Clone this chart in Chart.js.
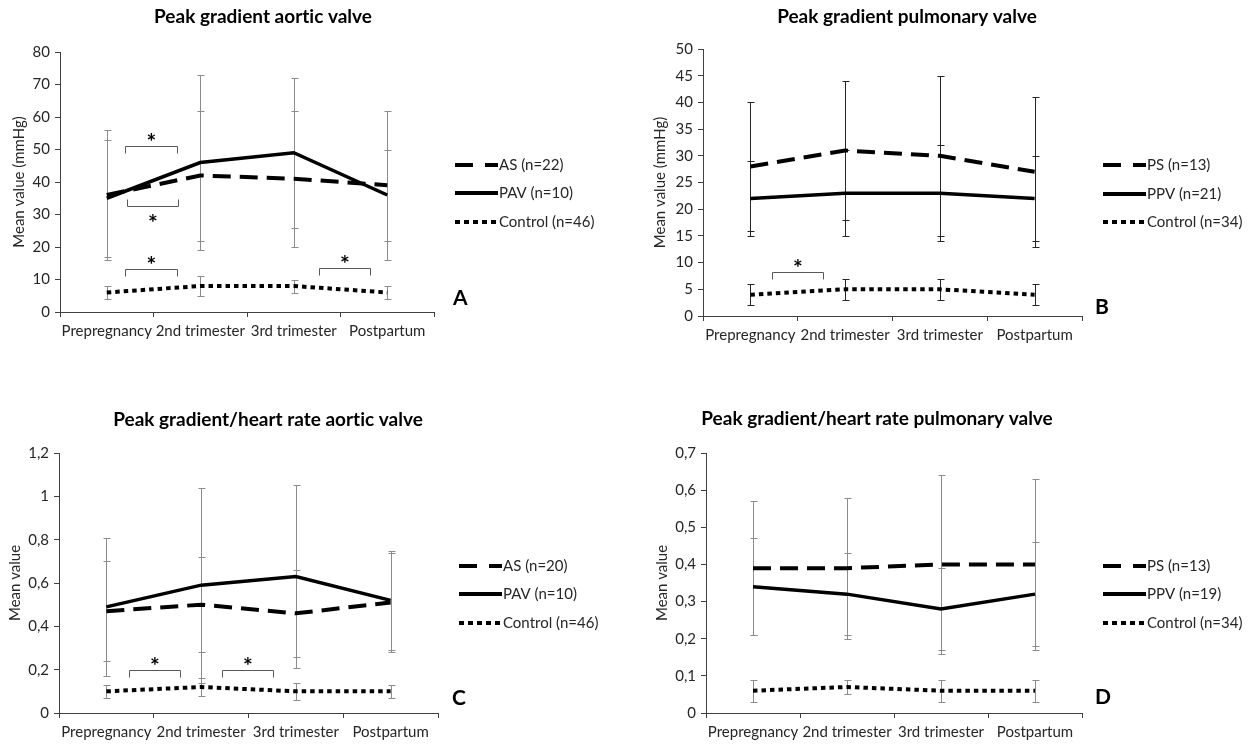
<!DOCTYPE html>
<html>
<head>
<meta charset="utf-8">
<script src="https://cdn.jsdelivr.net/npm/chart.js@4/dist/chart.umd.min.js"></script>
<style>
body{margin:0;background:#fff;}
#wrap{position:relative;width:1252px;height:744px;overflow:hidden;}
.panel{position:absolute;width:626px;height:372px;}
</style>
</head>
<body>
<div id="wrap">
  <div class="panel" style="left:0;top:0"><canvas id="chartA" width="626" height="372"></canvas></div>
  <div class="panel" style="left:626px;top:0"><canvas id="chartB" width="626" height="372"></canvas></div>
  <div class="panel" style="left:0;top:372px"><canvas id="chartC" width="626" height="372"></canvas></div>
  <div class="panel" style="left:626px;top:372px"><canvas id="chartD" width="626" height="372"></canvas></div>
</div>
<script>
// Zwangerschap: peak gradient over de 4 meetmomenten (gemiddelde +/- SD)
const categories = ['Prepregnancy', '2nd trimester', '3rd trimester', 'Postpartum'];

// A - peak gradient aortaklep (mmHg)
const asGrad      = [36, 42, 41, 39];
const asGradSd    = [20, 20, 21, 23];
const pavGrad     = [35, 46, 49, 36];
const pavGradSd   = [18, 27, 23, 14];
const ctrlAGrad   = [6, 8, 8, 6];
const ctrlAGradSd = [2, 3, 2, 2];

// B - peak gradient pulmonalisklep (mmHg)
const psGrad      = [28, 31, 30, 27];
const psGradSd    = [12, 13, 15, 14];
const ppvGrad     = [22, 23, 23, 22];
const ppvGradSd   = [7, 8, 9, 8];
const ctrlBGrad   = [4, 5, 5, 4];
const ctrlBGradSd = [2, 2, 2, 2];

// C - peak gradient / hartfrequentie aortaklep
const asHr      = [0.47, 0.50, 0.46, 0.51];
const asHrSd    = [0.23, 0.22, 0.20, 0.23];
const pavHr     = [0.49, 0.59, 0.63, 0.52];
const pavHrSd   = [0.32, 0.45, 0.42, 0.23];
const ctrlCHr   = [0.10, 0.12, 0.10, 0.10];
const ctrlCHrSd = [0.03, 0.04, 0.04, 0.03];

// D - peak gradient / hartfrequentie pulmonalisklep
const psHr      = [0.39, 0.39, 0.40, 0.40];
const psHrSd    = [0.18, 0.19, 0.24, 0.23];
const ppvHr     = [0.34, 0.32, 0.28, 0.32];
const ppvHrSd   = [0.13, 0.11, 0.11, 0.14];
const ctrlDHr   = [0.06, 0.07, 0.06, 0.06];
const ctrlDHrSd = [0.03, 0.02, 0.03, 0.03];

// significantie-haken (x in categorie-eenheden, y in waarde)
const sigA = [
  {from: 0.2,  to: 0.75, at: 51,   tips: 'down'},
  {from: 0.22, to: 0.76, at: 32.6, tips: 'up'},
  {from: 0.2,  to: 0.75, at: 13.2, tips: 'down'},
  {from: 2.27, to: 2.82, at: 13.4, tips: 'down'}
];
const sigB = [{from: 0.23, to: 0.77, at: 8.2, tips: 'down'}];
const sigC = [
  {from: 0.24, to: 0.78, at: 0.20, tips: 'down'},
  {from: 1.22, to: 1.76, at: 0.20, tips: 'down'}
];
const sigD = [];

const FONT = 'Lato, "Open Sans", sans-serif';
const AXIS = '#404040';
const TXT = '#262626';
const DASH = [18, 9];
const DOTS = [4.5, 4];

function commaFmt(v){ return String(+v.toFixed(2)).replace('.', ','); }

function px(v){ return Math.round(v) + 0.5; }

const decor = {
  id: 'decor',
  beforeDatasetsDraw(chart, args, o){
    const {ctx, scales:{x, y}} = chart;
    ctx.save();
    ctx.strokeStyle = o.errorColor; ctx.lineWidth = 1;
    chart.data.datasets.forEach(ds=>{
      ds.data.forEach((v,i)=>{
        const xx = px(x.getPixelForValue(i));
        const hi = px(y.getPixelForValue(v + ds.errors[i]));
        const lo = px(y.getPixelForValue(v - ds.errors[i]));
        ctx.beginPath();
        ctx.moveTo(xx, hi); ctx.lineTo(xx, lo);
        ctx.moveTo(xx-3, hi); ctx.lineTo(xx+4, hi);
        ctx.moveTo(xx-3, lo); ctx.lineTo(xx+4, lo);
        ctx.stroke();
      });
    });
    ctx.restore();
  },
  afterDraw(chart, args, o){
    const {ctx, chartArea:ca, scales:{x, y}} = chart;
    ctx.save();
    ctx.textRendering = 'optimizeSpeed';
    // titel
    ctx.fillStyle = '#000';
    ctx.font = 'bold 19px ' + FONT;
    ctx.textAlign = 'center'; ctx.textBaseline = 'middle';
    ctx.fillText(o.title, o.titleX, o.titleY);
    // y-as titel
    ctx.save();
    ctx.translate(o.yTitleX, (ca.top + ca.bottom)/2);
    ctx.rotate(-Math.PI/2);
    ctx.font = '15px ' + FONT; ctx.fillStyle = TXT;
    ctx.fillText(o.yTitle, 0, 0);
    ctx.restore();
    // significantie
    ctx.strokeStyle = '#595959'; ctx.lineWidth = 1;
    ctx.fillStyle = '#000'; ctx.font = 'bold 23px ' + FONT;
    o.sig.forEach(s=>{
      const x0 = px(x.getPixelForValue(s.from)), x1 = px(x.getPixelForValue(s.to));
      const yy = px(y.getPixelForValue(s.at));
      const d = s.tips === 'down' ? 7 : -7;
      ctx.beginPath();
      ctx.moveTo(x0, yy + d); ctx.lineTo(x0, yy); ctx.lineTo(x1, yy); ctx.lineTo(x1, yy + d);
      ctx.stroke();
      ctx.fillText('*', (x0 + x1)/2, s.tips === 'down' ? yy - 4 : yy + 17);
    });
    // legenda
    const lx = ca.right + o.legendDx;
    const mid = (ca.top + ca.bottom)/2 + o.legendDy;
    chart.data.datasets.forEach((ds,i)=>{
      const ly = Math.round(mid + (i-1)*28.5);
      ctx.save();
      ctx.strokeStyle = '#000'; ctx.lineWidth = 4;
      ctx.setLineDash(ds.legendDash || []);
      ctx.beginPath(); ctx.moveTo(lx, ly); ctx.lineTo(lx + 43, ly); ctx.stroke();
      ctx.restore();
      ctx.fillStyle = TXT; ctx.font = '15px ' + FONT;
      ctx.textAlign = 'left'; ctx.textBaseline = 'middle';
      ctx.fillText(ds.label, lx + 44, ly);
    });
    // paneelletter
    ctx.fillStyle = '#000'; ctx.font = 'bold 21px ' + FONT;
    ctx.textAlign = 'left'; ctx.textBaseline = 'middle';
    ctx.fillText(o.letter, o.letterX, o.letterY);
    ctx.restore();
  }
};

function makePanel(id, p){
  const sets = p.series.map((s,i)=>({
    label: s.name, data: s.values, errors: s.sd,
    borderColor: '#000', borderWidth: i === 1 ? 3.5 : 4,
    borderDash: [DASH, [], DOTS][i],
    legendDash: [[18, 12], [], [5, 4]][i],
    pointRadius: 0, tension: 0, fill: false
  }));
  return new Chart(document.getElementById(id), {
    type: 'line',
    data: { labels: categories, datasets: sets },
    options: {
      responsive: false, animation: false,
      layout: { padding: { left: 0, top: p.area.top, right: 626 - p.area.right, bottom: 0 } },
      plugins: {
        legend: { display: false }, tooltip: { enabled: false },
        decor: {
          title: p.title, titleX: p.titleX, titleY: p.titleY,
          yTitle: p.yTitle, yTitleX: p.yTitleX,
          sig: p.sig, errorColor: p.errorColor,
          legendDx: 21, legendDy: 11,
          letter: p.letter, letterX: p.letterX, letterY: p.letterY
        }
      },
      scales: {
        x: {
          offset: true,
          grid: { offset: true, drawOnChartArea: false, tickLength: 5, color: AXIS },
          border: { color: AXIS },
          ticks: { font: { family: FONT, size: 15 }, color: TXT, padding: 5, maxRotation: 0, autoSkip: false },
          afterFit: s => { s.height = 372 - p.area.bottom; }
        },
        y: {
          min: 0, max: p.max,
          grid: { drawOnChartArea: false, tickLength: 5, color: AXIS },
          border: { color: AXIS },
          ticks: { stepSize: p.step, font: { family: FONT, size: 15 }, color: TXT, padding: 5, callback: v => commaFmt(v) },
          afterFit: s => { s.width = p.area.left; }
        }
      }
    },
    plugins: [decor]
  });
}

makePanel('chartA', {
  title: 'Peak gradient aortic valve', titleX: 263, titleY: 17,
  yTitle: 'Mean value (mmHg)', yTitleX: 19,
  area: {left: 60, right: 434, top: 52, bottom: 312}, max: 80, step: 10,
  errorColor: '#8c8c8c', sig: sigA, letter: 'A', letterX: 453, letterY: 298,
  series: [
    {name: 'AS (n=22)', values: asGrad, sd: asGradSd},
    {name: 'PAV (n=10)', values: pavGrad, sd: pavGradSd},
    {name: 'Control (n=46)', values: ctrlAGrad, sd: ctrlAGradSd}
  ]
});

makePanel('chartB', {
  title: 'Peak gradient pulmonary valve', titleX: 281, titleY: 17,
  yTitle: 'Mean value (mmHg)', yTitleX: 34,
  area: {left: 77, right: 456, top: 49, bottom: 316}, max: 50, step: 5,
  errorColor: '#262626', sig: sigB, letter: 'B', letterX: 469, letterY: 307,
  series: [
    {name: 'PS (n=13)', values: psGrad, sd: psGradSd},
    {name: 'PPV (n=21)', values: ppvGrad, sd: ppvGradSd},
    {name: 'Control (n=34)', values: ctrlBGrad, sd: ctrlBGradSd}
  ]
});

makePanel('chartC', {
  title: 'Peak gradient/heart rate aortic valve', titleX: 268, titleY: 48,
  yTitle: 'Mean value', yTitleX: 15,
  area: {left: 59, right: 438, top: 81, bottom: 341}, max: 1.2, step: 0.2,
  errorColor: '#8c8c8c', sig: sigC, letter: 'C', letterX: 452, letterY: 326,
  series: [
    {name: 'AS (n=20)', values: asHr, sd: asHrSd},
    {name: 'PAV (n=10)', values: pavHr, sd: pavHrSd},
    {name: 'Control (n=46)', values: ctrlCHr, sd: ctrlCHrSd}
  ]
});

makePanel('chartD', {
  title: 'Peak gradient/heart rate pulmonary valve', titleX: 251, titleY: 47,
  yTitle: 'Mean value', yTitleX: 36,
  area: {left: 80, right: 456, top: 81, bottom: 341}, max: 0.7, step: 0.1,
  errorColor: '#8c8c8c', sig: sigD, letter: 'D', letterX: 469, letterY: 325,
  series: [
    {name: 'PS (n=13)', values: psHr, sd: psHrSd},
    {name: 'PPV (n=19)', values: ppvHr, sd: ppvHrSd},
    {name: 'Control (n=34)', values: ctrlDHr, sd: ctrlDHrSd}
  ]
});
</script>
</body>
</html>
